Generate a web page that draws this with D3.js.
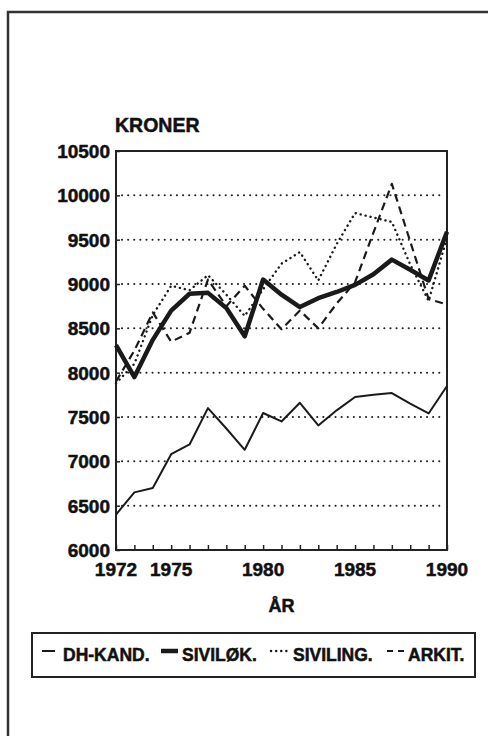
<!DOCTYPE html>
<html>
<head>
<meta charset="utf-8">
<script src="https://cdn.jsdelivr.net/npm/d3@7"></script>
<style>
  body { margin: 0; background: #fff; }
  text { font-family: "Liberation Sans", Arial, sans-serif; font-weight: bold; fill: #111;
         stroke: #111; stroke-width: 0.5px; }
  .grid line { stroke: #222; stroke-width: 2; stroke-dasharray: 0.1 6; stroke-linecap: round; }
  .series { fill: none; stroke: #1a1a1a; stroke-linejoin: round; }
</style>
</head>
<body>
<svg width="488" height="736"></svg>
<script>
// years on the x axis
var years = [1972, 1973, 1974, 1975, 1976, 1977, 1978, 1979, 1980, 1981,
             1982, 1983, 1984, 1985, 1986, 1987, 1988, 1989, 1990];

// kroner
var dhKand   = [6400, 6650, 6700, 7080, 7190, 7600, 7370, 7130, 7545, 7450,
                7660, 7405, 7575, 7725, 7750, 7770, 7650, 7540, 7850];
var sivilok  = [8310, 7950, 8370, 8700, 8890, 8900, 8730, 8410, 9050, 8880,
                8740, 8840, 8910, 8990, 9110, 9275, 9160, 9040, 9590];
var siviling = [7880, 8100, 8650, 8980, 8930, 9100, 8880, 8640, 8940, 9230,
                9360, 9040, 9450, 9800, 9750, 9700, 9220, 8810, 9520];
var arkit    = [7900, 8250, 8680, 8350, 8450, 9050, 8750, 8980, 8720, 8490,
                8700, 8500, 8780, 9020, 9580, 10130, 9480, 8830, 8770];

var yTicks = [6000, 6500, 7000, 7500, 8000, 8500, 9000, 9500, 10000, 10500];
var xLabels = [1972, 1975, 1980, 1985, 1990];
var legendNames = ["DH-KAND.", "SIVILØK.", "SIVILING.", "ARKIT."];

var svg = d3.select("svg");
var pArea = [116, 151, 447, 550]; // left, top, right, bottom

// outer frame, runs off the page at right and bottom
svg.append("rect")
  .attr("x", 8).attr("y", 12)
  .attr("width", 520).attr("height", 800)
  .attr("fill", "none")
  .attr("stroke", "#333")
  .attr("stroke-width", 2.5);

var xScale = d3.scaleLinear()
  .domain([1972, 1990])
  .range([pArea[0], pArea[2]]);

var yScale = d3.scaleLinear()
  .domain([6000, 10500])
  .range([pArea[3], pArea[1]]);

var g = svg.append("g");

// dotted gridlines
g.append("g")
  .attr("class", "grid")
  .selectAll("line")
  .data(yTicks.filter(d => d > 6000 && d < 10500))
  .enter().append("line")
    .attr("x1", pArea[0] + 6)
    .attr("x2", pArea[2] - 2)
    .attr("y1", d => yScale(d))
    .attr("y2", d => yScale(d));

// small ticks on the y axis
var yAxis = g.append("g")
  .attr("transform", `translate(${pArea[0]},0)`)
  .call(d3.axisRight(yScale).tickValues(yTicks).tickSize(4).tickFormat(""));
yAxis.select(".domain").remove();
yAxis.selectAll("line").attr("stroke", "#222").attr("stroke-width", 1.5);

g.selectAll(".ylab")
  .data(yTicks)
  .enter().append("text")
    .attr("class", "ylab")
    .attr("x", pArea[0] - 6)
    .attr("y", d => yScale(d))
    .attr("dy", "0.36em")
    .attr("text-anchor", "end")
    .style("font-size", "19px")
    .text(d => d);

// x axis with a tick per year
var xAxis = g.append("g")
  .attr("transform", `translate(0,${pArea[3]})`)
  .call(d3.axisTop(xScale).tickValues(years).tickSize(5).tickFormat(""));
xAxis.select(".domain").remove();
xAxis.selectAll("line").attr("stroke", "#222").attr("stroke-width", 1.5);

g.selectAll(".xlab")
  .data(xLabels)
  .enter().append("text")
    .attr("class", "xlab")
    .attr("x", d => xScale(d))
    .attr("y", 576)
    .attr("text-anchor", "middle")
    .style("font-size", "19px")
    .text(d => d);

// plot box
g.append("rect")
  .attr("x", pArea[0]).attr("y", pArea[1])
  .attr("width", pArea[2] - pArea[0])
  .attr("height", pArea[3] - pArea[1])
  .attr("fill", "none")
  .attr("stroke", "#222")
  .attr("stroke-width", 2);

// titles
g.append("text")
  .attr("x", 115).attr("y", 132)
  .style("font-size", "19.5px")
  .text("KRONER");

g.append("text")
  .attr("x", (pArea[0] + pArea[2]) / 2).attr("y", 612)
  .attr("text-anchor", "middle")
  .style("font-size", "18px")
  .text("ÅR");

// series
var series = [
  {vals: dhKand,   width: 2,   dash: null},
  {vals: sivilok,  width: 4.5, dash: null},
  {vals: siviling, width: 2.4, dash: "0.1 5", cap: "round"},
  {vals: arkit,    width: 2.2, dash: "8 5"}
];

var line = d3.line()
  .x((d, i) => xScale(years[i]))
  .y(d => yScale(d));

series.forEach(s => {
  g.append("path")
    .datum(s.vals)
    .attr("class", "series")
    .attr("d", line)
    .attr("stroke-width", s.width)
    .attr("stroke-dasharray", s.dash)
    .attr("stroke-linecap", s.cap || "butt");
});

// legend
var lg = svg.append("g");
lg.append("rect")
  .attr("x", 32).attr("y", 633)
  .attr("width", 443).attr("height", 44)
  .attr("fill", "none")
  .attr("stroke", "#222")
  .attr("stroke-width", 2);

var legendPos = [[42, 55, 63], [161, 178, 182], [271, 288, 293], [387, 405, 408]];
legendPos.forEach((p, i) => {
  var s = series[i];
  lg.append("line")
    .attr("x1", p[0]).attr("x2", p[1])
    .attr("y1", 651).attr("y2", 651)
    .attr("stroke", "#1a1a1a")
    .attr("stroke-width", s.width)
    .attr("stroke-dasharray", s.dash ? (i == 2 ? "0.1 5" : "6 5") : null)
    .attr("stroke-linecap", s.cap || "butt");
  lg.append("text")
    .attr("x", p[2]).attr("y", 661)
    .style("font-size", "17.5px")
    .text(legendNames[i]);
});
</script>
</body>
</html>
